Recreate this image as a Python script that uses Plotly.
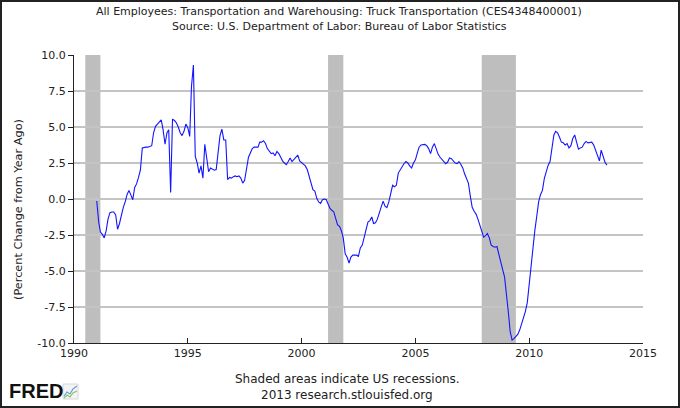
import pandas as pd
import plotly.graph_objects as go

# ---- data (percent change from year ago, monthly, Jan 1991 .. Jun 2013) ----
start_month = "1991-01-01"
values = [
    # 1991
    -0.14, -1.6, -2.3, -2.45, -2.7, -2.2, -1.4, -0.95, -0.9, -0.9, -1.1, -2.1,
    # 1992
    -1.7, -1.1, -0.6, -0.2, 0.3, 0.6, 0.2, -0.05, 0.8, 1.05, 1.5, 2.0,
    # 1993
    3.55, 3.6, 3.6, 3.6, 3.65, 3.7, 4.6, 5.05, 5.2, 5.35, 5.5, 4.8,
    # 1994
    3.8, 4.6, 4.8, 0.45, 5.55, 5.45, 5.3, 5.0, 4.6, 4.4, 4.7, 5.2,
    # 1995
    4.95, 4.35, 7.8, 9.3, 2.95, 2.5, 1.8, 2.3, 1.45, 3.8, 2.6, 1.9,
    # 1996
    2.15, 2.1, 2.0, 2.05, 3.3, 4.4, 4.85, 4.1, 4.1, 1.35, 1.5, 1.45,
    # 1997
    1.55, 1.6, 1.55, 1.6, 1.45, 1.1, 1.3, 2.2, 2.9, 3.2, 3.5, 3.6,
    # 1998
    3.62, 3.6, 3.95, 3.95, 4.05, 3.85, 3.5, 3.3, 3.15, 3.2, 3.0, 3.3,
    # 1999
    3.15, 2.9, 2.65, 2.5, 2.38, 2.6, 2.84, 2.6, 2.75, 2.95, 3.05, 2.65,
    # 2000
    2.55, 2.45, 2.3, 2.05, 1.6, 1.0, 0.65, 0.55, 0.05, -0.2, -0.3, -0.05,
    # 2001
    0.0, -0.05, -0.3, -0.65, -0.78, -0.9, -1.35, -1.8, -1.9, -2.2, -2.74, -3.8,
    # 2002
    -4.05, -4.45, -4.05, -3.9, -3.9, -3.9, -3.98, -3.4, -3.2, -2.6, -2.1, -1.6,
    # 2003
    -1.5, -1.25, -1.7, -1.65, -1.4, -1.0, -0.6, -0.15, -0.5, -0.6, -0.2, 0.4,
    # 2004
    0.95, 0.85, 0.95, 1.8, 2.05, 2.3, 2.45, 2.6, 2.5, 2.3, 2.15, 2.5,
    # 2005
    2.72, 3.2, 3.6, 3.75, 3.78, 3.79, 3.7, 3.5, 3.15, 3.6, 3.85, 3.4,
    # 2006
    3.1, 2.9, 2.78, 2.6, 2.45, 2.55, 2.85, 2.8, 2.65, 2.5, 2.45, 2.6,
    # 2007
    2.4, 2.14, 1.75, 1.35, 1.1, 0.2, -0.58, -0.85, -1.05, -1.4, -1.85, -2.3,
    # 2008
    -2.65, -2.55, -2.4, -2.7, -3.2, -3.3, -3.35, -3.3, -3.9, -4.35, -4.9, -5.4,
    # 2009
    -6.5, -7.9, -9.2, -9.8, -9.7, -9.55, -9.4, -9.1, -8.7, -8.35, -7.8, -7.2,
    # 2010
    -5.8, -4.9, -3.5, -2.2, -1.23, -0.2, 0.3, 0.6, 1.44, 1.9, 2.35, 2.6,
    # 2011
    3.4, 4.45, 4.7, 4.6, 4.3, 3.95, 3.9, 3.75, 3.85, 3.55, 3.7, 4.2,
    # 2012
    4.45, 3.9, 3.47, 3.55, 3.6, 3.85, 4.0, 3.9, 3.93, 3.95, 3.75, 3.4,
    # 2013
    3.05, 2.65, 3.4, 2.95, 2.55, 2.35,
]
dates = pd.date_range(start_month, periods=len(values), freq="MS")

recession_starts = ["1990-07-01", "2001-03-01", "2007-12-01"]
recession_ends = ["1991-03-01", "2001-11-01", "2009-06-01"]

y_ticks = [10.0, 7.5, 5.0, 2.5, 0.0, -2.5, -5.0, -7.5, -10.0]
x_tick_years = [1990, 1995, 2000, 2005, 2010, 2015]

title_1 = "All Employees: Transportation and Warehousing: Truck Transportation (CES4348400001)"
title_2 = "Source: U.S. Department of Labor: Bureau of Labor Statistics"
y_title = "(Percent Change from Year Ago)"
note_1 = "Shaded areas indicate US recessions."
note_2 = "2013 research.stlouisfed.org"

# ---- layout geometry (pixels) ----
W, H = 680, 408
ML, MR, MT, MB = 74, 37, 55, 65
PW, PH = W - ML - MR, H - MT - MB


def px(xpix):
    return (xpix - ML) / PW


def py(ypix):
    return (H - MB - ypix) / PH


FONT = "DejaVu Sans"

fig = go.Figure()
fig.add_trace(go.Scatter(
    x=dates, y=values, mode="lines",
    line=dict(color="#1414ff", width=1.1),
    hoverinfo="skip", showlegend=False,
))

shapes = []
for s, e in zip(recession_starts, recession_ends):
    shapes.append(dict(type="rect", xref="x", yref="paper", x0=s, x1=e, y0=0, y1=1,
                       fillcolor="#bebebe", line=dict(width=0), layer="below"))
# outer frame
shapes.append(dict(type="rect", xref="paper", yref="paper",
                   x0=px(1), x1=px(679), y0=py(407), y1=py(1),
                   line=dict(color="#222222", width=2), fillcolor="rgba(0,0,0,0)"))
# FRED mini-graph icon
shapes.append(dict(type="rect", xref="paper", yref="paper",
                   x0=px(63), x1=px(78), y0=py(399), y1=py(384),
                   line=dict(color="#d8d8d8", width=1), fillcolor="#f4f4f4"))
shapes.append(dict(type="path", xref="paper", yref="paper",
                   path=f"M {px(64)},{py(396)} L {px(67)},{py(392)} L {px(70)},{py(394)} L {px(73)},{py(389)} L {px(77)},{py(386)}",
                   line=dict(color="#6a9fd8", width=1.2)))
shapes.append(dict(type="path", xref="paper", yref="paper",
                   path=f"M {px(64)},{py(398)} L {px(67)},{py(395)} L {px(70)},{py(397)} L {px(73)},{py(393)} L {px(77)},{py(391)}",
                   line=dict(color="#8cc06a", width=1.2)))

annotations = [
    dict(text=title_1, x=px(339), y=py(12), xref="paper", yref="paper",
         showarrow=False, xanchor="center", yanchor="middle",
         font=dict(family=FONT, size=11, color="#222222")),
    dict(text=title_2, x=px(339), y=py(27), xref="paper", yref="paper",
         showarrow=False, xanchor="center", yanchor="middle",
         font=dict(family=FONT, size=11, color="#222222")),
    dict(text=y_title, x=px(18), y=py(210), xref="paper", yref="paper",
         showarrow=False, textangle=-90, xanchor="center", yanchor="middle",
         font=dict(family=FONT, size=11.3, color="#222222")),
    dict(text=note_1, x=px(347), y=py(379), xref="paper", yref="paper",
         showarrow=False, xanchor="center", yanchor="middle",
         font=dict(family=FONT, size=12, color="#222222")),
    dict(text=note_2, x=px(347), y=py(395), xref="paper", yref="paper",
         showarrow=False, xanchor="center", yanchor="middle",
         font=dict(family=FONT, size=12, color="#222222")),
    dict(text="<b>FRED</b>", x=px(7), y=py(391), xref="paper", yref="paper",
         showarrow=False, xanchor="left", yanchor="middle",
         font=dict(family="Liberation Sans", size=20, color="#111111")),
]

fig.update_layout(
    width=W, height=H,
    margin=dict(l=ML, r=MR, t=MT, b=MB, pad=0),
    paper_bgcolor="white", plot_bgcolor="white",
    shapes=shapes, annotations=annotations,
    showlegend=False,
    xaxis=dict(
        type="date",
        range=["1990-01-01", "2015-01-01"],
        tickvals=[f"{y}-01-01" for y in x_tick_years],
        ticktext=[str(y) for y in x_tick_years],
        ticks="inside", ticklen=5, tickcolor="#222222", tickwidth=1,
        showgrid=False, zeroline=False,
        showline=True, linecolor="#222222", linewidth=1,
        tickfont=dict(family=FONT, size=11, color="#222222"),
    ),
    yaxis=dict(
        range=[-10, 10],
        tickvals=y_ticks,
        ticktext=[f"{v:.1f}" for v in y_ticks],
        ticks="outside", ticklen=5, tickcolor="#222222", tickwidth=1,
        showgrid=True, gridcolor="#c4c4c4", gridwidth=1.5,
        zeroline=False,
        showline=True, linecolor="#222222", linewidth=1,
        tickfont=dict(family=FONT, size=11, color="#222222"),
    ),
)

fig.write_html("out.html")
